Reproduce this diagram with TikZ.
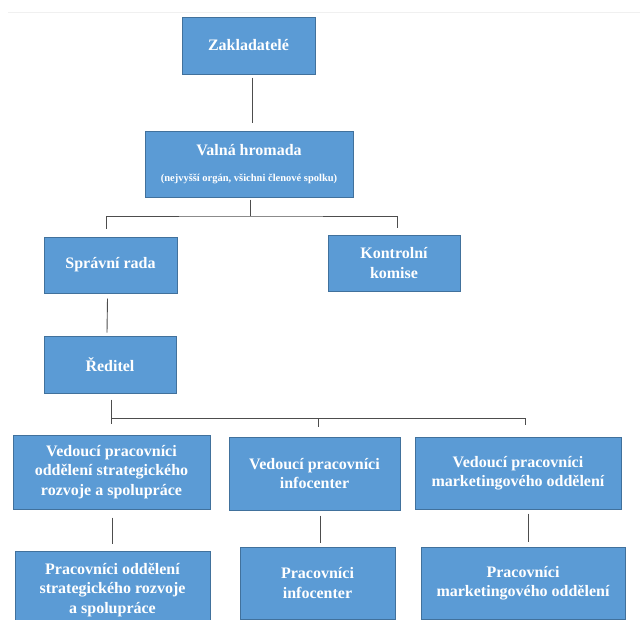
\documentclass[tikz,border=0pt]{standalone}
\usepackage{fontspec}
\setmainfont{Liberation Serif}
\definecolor{boxblue}{HTML}{5B9BD5}
\definecolor{boxedge}{HTML}{41719C}
\definecolor{linegray}{HTML}{4D4D4D}
\begin{document}
\begin{tikzpicture}[x=1pt, y=-1pt,
  box/.style={fill=boxblue, draw=boxedge, line width=1pt, text=white, align=center, inner sep=0pt,
    font=\bfseries\fontsize{16}{19.5}\selectfont},
  conn/.style={draw=linegray, line width=0.9pt}]
  \useasboundingbox (0,0) rectangle (640,619);
  \clip (0,0) rectangle (640,619);
  \draw[black!6] (8,12) -- (640,12);
  % top levels
  \node[box, minimum width=133, minimum height=57] (zak) at (248.5,45.5) {Zakladatelé};
  \node[box, minimum width=208, minimum height=66] (valna) at (249,164)
    {Valná hromada\\[6pt]{\fontsize{10.5}{12}\selectfont (nejvyšší orgán, všichni členové spolku)}};
  \node[box, minimum width=133, minimum height=56] (spravni) at (110.5,265) {Správní rada};
  \node[box, minimum width=132, minimum height=56] (kontrolni) at (394,263) {Kontrolní\\komise};
  \node[box, minimum width=132, minimum height=57] (reditel) at (110,364.5) {Ředitel};
  % heads of departments
  \node[box, minimum width=197, minimum height=74] (vedA) at (111.5,472)
    {Vedoucí pracovníci\\oddělení strategického\\rozvoje a spolupráce};
  \node[box, minimum width=171, minimum height=73] (vedB) at (314.5,473.5)
    {Vedoucí pracovníci\\infocenter};
  \node[box, minimum width=206, minimum height=72] (vedC) at (518,473)
    {Vedoucí pracovníci\\marketingového oddělení};
  % staff
  \node[box, minimum width=195, minimum height=78] (pracA) at (112.5,590)
    {Pracovníci oddělení\\strategického rozvoje\\a spolupráce};
  \node[box, minimum width=155, minimum height=72] (pracB) at (317.5,583)
    {Pracovníci\\infocenter};
  \node[box, minimum width=204, minimum height=72] (pracC) at (523,583)
    {Pracovníci\\marketingového oddělení};
  % connectors
  \coordinate (vsplit) at (250,216);
  \coordinate (rsplit) at (111,418);
  \draw[conn] ([xshift=3.5,yshift=-3]zak.south) -- ([xshift=3,yshift=8]valna.north);
  \draw[conn] ([xshift=1,yshift=-2]valna.south) -- (vsplit);
  \draw[conn] ([xshift=-4.5,yshift=8]spravni.north) |- (vsplit) -| ([xshift=3,yshift=7]kontrolni.north);
  \draw[conn] ([xshift=-3,yshift=-5]spravni.south) -- ([xshift=-3,yshift=3]reditel.north);
  \draw[conn] ([xshift=1,yshift=-6]reditel.south) -- (rsplit) -| ([xshift=7,yshift=12]vedC.north);
  \draw[conn] (rsplit) -| ([xshift=-0.5,yshift=11]vedA.north);
  \draw[conn] (rsplit) -| ([xshift=3.5,yshift=10]vedB.north);
  \draw[conn] ([xshift=0.5,yshift=-8]vedA.south) -- ([xshift=-0.5,yshift=7]pracA.north);
  \draw[conn] ([xshift=5.5,yshift=-5]vedB.south) -- ([xshift=2.5,yshift=4]pracB.north);
  \draw[conn] ([xshift=10,yshift=-4]vedC.south) -- ([xshift=5,yshift=5]pracC.north);
\end{tikzpicture}
\end{document}
